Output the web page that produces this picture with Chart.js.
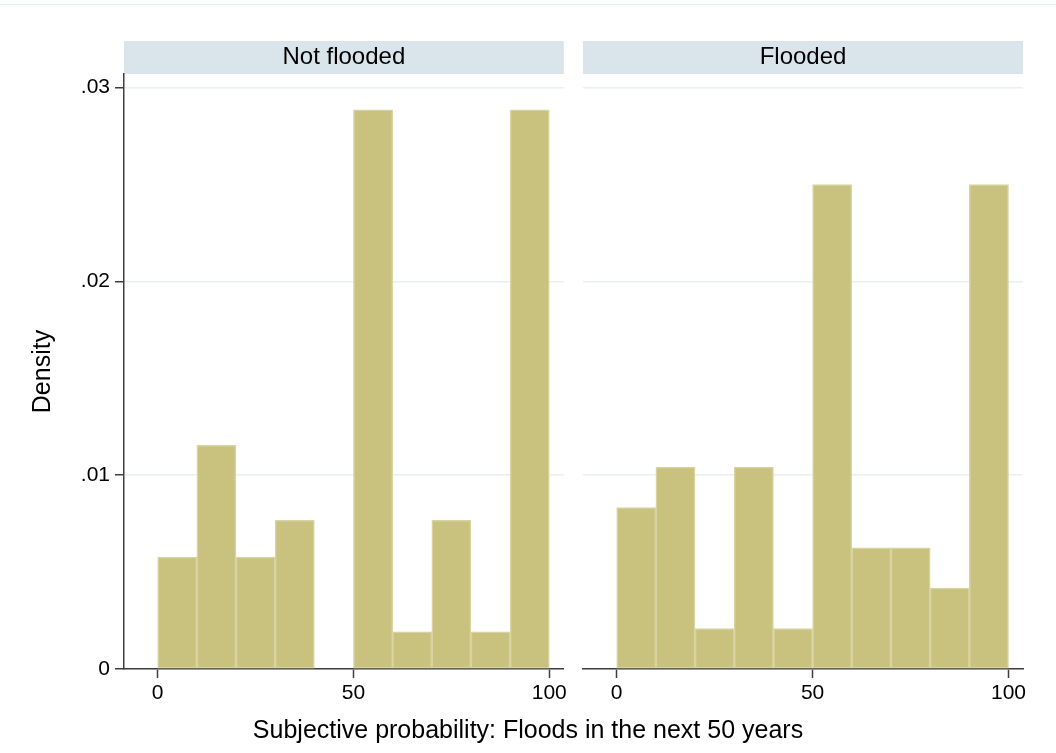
<!DOCTYPE html>
<html>
<head>
<meta charset="utf-8">
<title>Subjective probability of floods</title>
<script src="https://cdn.jsdelivr.net/npm/chart.js@4/dist/chart.umd.min.js"></script>
<style>
    body { margin: 0; background: #fff; font-family: "Liberation Sans", Arial, sans-serif; }
    #page { position: relative; width: 1056px; height: 753px; overflow: hidden; }
    #topLine { position: absolute; left: 0; top: 4px; width: 1056px; height: 1px; background: #e6eef1; }
    .panel { position: absolute; top: 0; height: 753px; }
    #leftPanel { left: 0; width: 570px; }
    #rightPanel { left: 570px; width: 486px; }
    #xTitle { position: absolute; left: 0; width: 1056px; top: 714px; line-height: 30px; text-align: center; font-size: 25px; color: #000; }
</style>
</head>
<body>
<div id="page">
    <div id="topLine"></div>
    <div class="panel" id="leftPanel"><canvas id="notFloodedChart"></canvas></div>
    <div class="panel" id="rightPanel"><canvas id="floodedChart"></canvas></div>
    <div id="xTitle">Subjective probability: Floods in the next 50 years</div>
</div>
<script>
// Histogram bins (width 10), midpoints on the x axis
const binMids = [5, 15, 25, 35, 45, 55, 65, 75, 85, 95];

// Density per bin
const notFlooded = [0.00577, 0.01154, 0.00577, 0.00769, 0, 0.02885, 0.00192, 0.00769, 0.00192, 0.02885];
const flooded = [0.00833, 0.01042, 0.00208, 0.01042, 0.00208, 0.025, 0.00625, 0.00625, 0.00417, 0.025];

// Panel titles and ticks
const panelTitles = ['Not flooded', 'Flooded'];
const xTicks = [0, 50, 100];
const yTicks = [0, 0.01, 0.02, 0.03];
const yTickLabels = ['0', '.01', '.02', '.03'];

const barColor = '#c9c27f';
const barEdge = '#d8d4a2';
const gridColor = '#e9f0f2';
const axisColor = '#3f3f3f';
const stripColor = '#d9e5eb';
const fontFamily = '"Liberation Sans", Arial, sans-serif';

Chart.defaults.font.family = fontFamily;
Chart.defaults.color = '#000';

// Draws the grey-blue strip with the panel name above the plot area
const stripPlugin = {
    id: 'strip',
    beforeDraw(chart, args, opts) {
        const ctx = chart.ctx;
        const area = chart.chartArea;
        ctx.save();
        ctx.fillStyle = stripColor;
        ctx.fillRect(area.left, 41, area.right - area.left, 33);
        ctx.fillStyle = '#000';
        ctx.font = '24px ' + fontFamily;
        ctx.textAlign = 'center';
        ctx.textBaseline = 'middle';
        ctx.fillText(opts.text, (area.left + area.right) / 2, 57);
        ctx.restore();
    }
};

// Function to create one panel's configuration
function createPanelConfig(title, values, firstPanel) {
    return {
        type: 'bar',
        data: {
            datasets: [{
                data: binMids.map((x, i) => ({ x: x, y: values[i] })),
                backgroundColor: barColor,
                borderColor: barEdge,
                borderWidth: 1.5,
                borderSkipped: false,
                barPercentage: 1,
                categoryPercentage: 1
            }]
        },
        options: {
            responsive: true,
            maintainAspectRatio: false,
            animation: false,
            events: [],
            layout: {
                padding: firstPanel
                    ? { left: 0, right: 6, top: 74, bottom: 44 }
                    : { left: 13, right: 33, top: 74, bottom: 44 }
            },
            plugins: {
                legend: { display: false },
                tooltip: { enabled: false },
                strip: { text: title }
            },
            scales: {
                x: {
                    type: 'linear',
                    min: -8.6,
                    max: 103.7,
                    offset: false,
                    afterFit: (scale) => { scale.height = 40; },
                    afterBuildTicks: (scale) => { scale.ticks = xTicks.map(v => ({ value: v })); },
                    grid: {
                        offset: false,
                        drawOnChartArea: false,
                        tickLength: 9,
                        tickColor: axisColor,
                        tickWidth: 1.5
                    },
                    border: { display: true, color: axisColor, width: 1.5 },
                    ticks: {
                        padding: 3,
                        maxRotation: 0,
                        font: { size: 21 },
                        callback: (v) => String(v)
                    }
                },
                y: {
                    min: 0,
                    max: 0.0307,
                    afterFit: (scale) => { scale.width = firstPanel ? 124 : 0; },
                    afterBuildTicks: (scale) => { scale.ticks = yTicks.map(v => ({ value: v })); },
                    grid: {
                        color: gridColor,
                        lineWidth: 1.5,
                        drawTicks: firstPanel,
                        tickLength: 9,
                        tickColor: axisColor,
                        tickWidth: 1.5
                    },
                    border: { display: firstPanel, color: axisColor, width: 1.5 },
                    ticks: {
                        display: firstPanel,
                        padding: 5,
                        font: { size: 21 },
                        callback: (v) => yTickLabels[yTicks.indexOf(v)]
                    },
                    title: {
                        display: firstPanel,
                        text: 'Density',
                        font: { size: 25 },
                        padding: { top: 28, bottom: 0 }
                    }
                }
            }
        },
        plugins: [stripPlugin]
    };
}

// Create the two panels
const notFloodedChart = new Chart(document.getElementById('notFloodedChart'), createPanelConfig(panelTitles[0], notFlooded, true));
const floodedChart = new Chart(document.getElementById('floodedChart'), createPanelConfig(panelTitles[1], flooded, false));
</script>
</body>
</html>
